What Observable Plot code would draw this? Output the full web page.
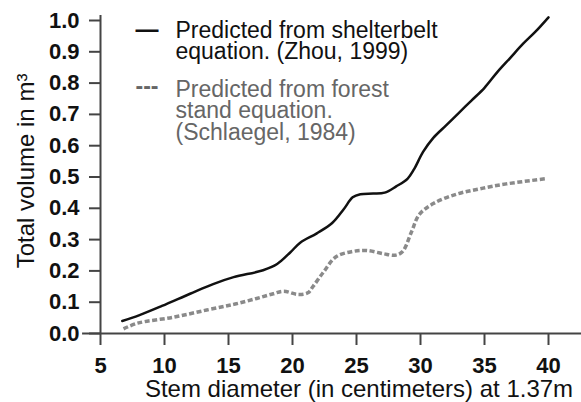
<!DOCTYPE html>
<html><head><meta charset="utf-8">
<script src="https://cdn.jsdelivr.net/npm/d3@7"></script>
<script src="https://cdn.jsdelivr.net/npm/@observablehq/plot@0.6"></script>
<style>body{margin:0;background:#fff}</style>
</head><body><div id="chart"></div>
<script>
// Stem diameter (cm) and predicted total volume (m³)
const shelterD = [6.7, 8, 9.8, 12, 13.8, 15.4, 17.7, 18.8, 19.8, 20.6, 21.9, 23.1, 24.0, 24.7, 25.3, 26.3, 27.2, 28.1, 29.0, 29.5, 30.2, 31, 32, 33, 34, 35, 36, 37, 38, 39, 40];
const shelterV = [0.04, 0.058, 0.088, 0.127, 0.158, 0.18, 0.202, 0.222, 0.258, 0.29, 0.32, 0.353, 0.397, 0.435, 0.445, 0.447, 0.45, 0.47, 0.495, 0.525, 0.58, 0.625, 0.665, 0.705, 0.745, 0.785, 0.835, 0.88, 0.925, 0.965, 1.01];
const forestD = [6.8, 7.9, 10.7, 13.3, 15.4, 17.2, 18.5, 19.3, 20.4, 21.2, 21.6, 22.4, 23.4, 24.7, 25.8, 27.1, 28.0, 28.6, 29.3, 29.9, 31.0, 32.8, 34.6, 36.7, 39.9];
const forestV = [0.015, 0.033, 0.052, 0.075, 0.093, 0.112, 0.127, 0.135, 0.125, 0.13, 0.15, 0.195, 0.245, 0.262, 0.265, 0.255, 0.25, 0.262, 0.325, 0.38, 0.415, 0.445, 0.462, 0.478, 0.495];
const xTicks = [5, 10, 15, 20, 25, 30, 35, 40];
const yTicks = [0, 0.1, 0.2, 0.3, 0.4, 0.5, 0.6, 0.7, 0.8, 0.9, 1.0];
const xLabel = "Stem diameter (in centimeters) at 1.37m";
const yLabel = "Total volume in m³";
const legendSymbols = ["—", "---"];
const legendLabels = ["Predicted from shelterbelt\nequation. (Zhou, 1999)", "Predicted from forest\nstand equation.\n(Schlaegel, 1984)"];
const legendColors = ["#111", "#666"];

const shelter = shelterD.map((d, i) => ({d, v: shelterV[i]}));
const forest = forestD.map((d, i) => ({d, v: forestV[i]}));

const legendTextDy = [38.5, 119];
const legendSymDy = [16.3, 73.3];

const chart = Plot.plot({
  width: 581, height: 402,
  marginLeft: 100, marginRight: 33, marginTop: 20, marginBottom: 69,
  x: {domain: [5, 40]},
  y: {domain: [0, 1]},
  style: {fontFamily: "'Liberation Sans', Arial, sans-serif", background: "#fff", color: "#111", overflow: "visible"},
  marks: [
    Plot.ruleY([0], {x1: 3.6, x2: 42.6, stroke: "#444", strokeWidth: 2}),
    Plot.ruleX([5], {y1: 0, y2: 1.016, stroke: "#444", strokeWidth: 2}),
    Plot.axisX({ticks: xTicks, tickSize: 12, tickPadding: 12, fontSize: 22, fontWeight: "bold", stroke: "#444", strokeWidth: 2, fill: "#111", label: null, tickFormat: d3.format("d")}),
    Plot.axisY({ticks: yTicks, tickSize: 11, tickPadding: 10, fontSize: 22, fontWeight: "bold", stroke: "#444", strokeWidth: 2, fill: "#111", label: null, tickFormat: d3.format(".1f")}),
    Plot.line(forest, {x: "d", y: "v", stroke: "#8a8a8a", strokeWidth: 3.5, strokeDasharray: "5,2.5", strokeLinecap: "butt", curve: "catmull-rom"}),
    Plot.line(shelter, {x: "d", y: "v", stroke: "#111", strokeWidth: 2.5, curve: "catmull-rom"}),
    ...legendLabels.map((t, i) => Plot.text([t], {frameAnchor: "top-left", textAnchor: "start", lineAnchor: "bottom", lineHeight: 21.5 / 23, dx: 75, dy: legendTextDy[i], fontSize: 23, fill: legendColors[i]})),
    ...legendSymbols.map((t, i) => Plot.text([t], {frameAnchor: "top-left", textAnchor: "start", lineAnchor: "bottom", dx: 35, dy: legendSymDy[i], fontSize: 23, fontWeight: "bold", fill: legendColors[i]})),
    Plot.text([xLabel], {frameAnchor: "bottom", lineAnchor: "bottom", dx: 34.5, dy: 63, fontSize: 24, fill: "#111"}),
    Plot.text([yLabel], {frameAnchor: "left", textAnchor: "middle", rotate: -90, lineAnchor: "bottom", dx: -67, dy: -6, fontSize: 24, fill: "#111"})
  ]
});
document.getElementById("chart").appendChild(chart);
</script>
</body></html>
